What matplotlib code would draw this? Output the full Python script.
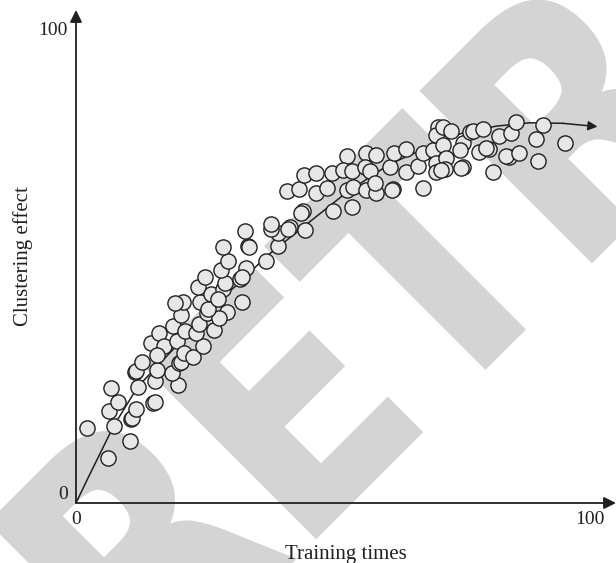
import matplotlib
matplotlib.use("Agg")
import matplotlib.pyplot as plt
from matplotlib.textpath import TextPath
from matplotlib.patches import PathPatch
from matplotlib.font_manager import FontProperties
from matplotlib.transforms import Affine2D

# Puntos medidos (entrenamiento vs. efecto de agrupamiento)
train_x = [2.1, 6.2, 10.5, 7.3, 6.5, 8.1, 6.8, 10.6, 10.9, 11.7, 15.0, 15.3, 12.0, 11.4, 11.6,
           12.8, 15.3, 19.9, 18.6, 20.1, 20.4, 15.7, 14.6, 16.1, 17.1, 15.8, 18.9, 19.6, 21.2, 21.0,
           22.8, 24.6, 23.4, 23.9, 20.5, 20.8, 24.1, 25.4, 26.9, 29.3, 32.2, 27.8, 25.6, 19.2, 23.7,
           25.0, 26.2, 28.5, 28.9, 27.6, 28.1, 29.5, 28.5, 33.5, 33.7, 33.1, 31.8, 32.2, 32.8, 36.9,
           39.3, 39.2, 37.9, 38.0, 41.6, 41.2, 44.5, 44.1, 43.7, 41.0, 43.4, 44.3, 46.6, 46.6, 48.9,
           49.8, 50.0, 52.6, 52.7, 51.9, 53.7, 53.8, 53.7, 56.4, 58.3, 56.1, 57.1, 56.4, 58.3, 58.1,
           61.0, 61.9, 61.7, 61.4, 64.1, 64.2, 66.5, 67.4, 67.4, 69.4, 70.0, 70.0, 70.3, 70.0, 71.3,
           73.0, 71.3, 72.0, 71.7, 70.9, 75.2, 74.6, 75.3, 74.9, 76.7, 77.1, 79.1, 78.4, 80.3, 79.8,
           81.0, 82.3, 84.6, 85.6, 84.1, 83.7, 86.2, 89.5, 90.9, 89.8, 95.0]
effect_y = [15.9, 9.5, 13.1, 16.2, 19.4, 21.4, 24.2, 17.8, 17.9, 19.9, 21.1, 21.3, 24.5, 27.6, 27.8,
            29.7, 25.7, 24.9, 27.4, 29.5, 29.7, 28.1, 33.8, 35.9, 33.2, 31.2, 37.3, 34.2, 36.2, 31.7,
            30.9, 33.1, 35.8, 37.8, 39.6, 42.5, 42.3, 40.0, 36.5, 40.3, 42.5, 39.0, 40.9, 42.1, 45.6,
            47.7, 44.1, 45.1, 46.4, 43.0, 49.2, 51.1, 53.9, 54.2, 53.9, 49.5, 47.2, 47.6, 57.4, 51.1,
            54.2, 56.9, 57.7, 58.9, 58.2, 57.9, 57.6, 61.5, 61.2, 65.9, 66.2, 69.2, 69.7, 65.3, 66.4,
            69.6, 61.6, 66.0, 73.2, 70.3, 70.0, 66.7, 62.4, 73.9, 73.4, 70.8, 70.0, 66.0, 65.5, 67.4,
            70.8, 73.9, 66.3, 66.1, 74.6, 69.9, 71.0, 66.4, 73.9, 74.5, 71.7, 69.9, 79.4, 77.6, 79.4,
            78.5, 75.5, 72.7, 70.5, 70.3, 75.9, 74.5, 70.8, 70.6, 78.2, 78.5, 78.8, 74.1, 74.7, 74.9,
            69.9, 77.4, 78.0, 80.4, 72.9, 73.2, 73.8, 76.7, 79.7, 72.2, 76.0]

# Curva de tendencia
curve_x = [0, 2.3, 7.3, 12, 19.4, 25, 31.8, 37, 44.5, 52.6, 61, 70, 75, 81.7, 88.2, 94.6, 101.4]
curve_y = [0, 5.2, 16.2, 24.5, 33, 40, 46.5, 52, 58.5, 65.5, 71.5, 75.8, 78, 79.5, 80.2, 80.1, 79.4]

tick_vals = [0, 100]
tick_labels = ["0", "100"]

serif = "Liberation Serif"
ink = "#231f20"

fig = plt.figure(figsize=(6.16, 5.63), dpi=100)
ax = fig.add_axes([76 / 616, 60 / 563, 540 / 616, 493 / 563])
ax.set_facecolor("none")

# marca de agua (letra estrecha: se comprime el trazo en horizontal)
wm_path = TextPath((0, 0), "RETRACTED", size=330,
                   prop=FontProperties(family="DejaVu Sans", weight="bold"))
wm_tr = (Affine2D().scale(0.866, 1).rotate_deg(45).translate(142, -148)
         + Affine2D().scale(1 / 100) + fig.dpi_scale_trans)
fig.add_artist(PathPatch(wm_path, transform=wm_tr, facecolor="#d4d4d4",
                         edgecolor="#d4d4d4", lw=2.5, zorder=-1))

ax.plot(curve_x[:-1], curve_y[:-1], color=ink, lw=1.1, zorder=2)
ax.annotate("", xy=(curve_x[-1], curve_y[-1]), xytext=(curve_x[-2], curve_y[-2]),
            arrowprops=dict(arrowstyle="-|>", color=ink, lw=1.1, mutation_scale=14,
                            shrinkA=0, shrinkB=0), zorder=2)
ax.scatter(train_x, effect_y, s=120, facecolor="#e6e7e8", edgecolor=ink, linewidths=1.0, zorder=3)

ax.set_xlim(0, 105)
ax.set_ylim(0, 104)
for s in ax.spines.values():
    s.set_visible(False)

# ejes con flecha
ax.annotate("", xy=(105, 0), xytext=(0, 0),
            arrowprops=dict(arrowstyle="-|>", color=ink, lw=1.3, mutation_scale=18,
                            shrinkA=0, shrinkB=0), annotation_clip=False)
ax.annotate("", xy=(0, 104), xytext=(0, 0),
            arrowprops=dict(arrowstyle="-|>", color=ink, lw=1.3, mutation_scale=18,
                            shrinkA=0, shrinkB=0), annotation_clip=False)

ax.set_xticks(tick_vals)
ax.set_xticklabels(tick_labels, family=serif, fontsize=14, color=ink)
ax.set_yticks(tick_vals)
ax.set_yticklabels(tick_labels, family=serif, fontsize=14, color=ink)
ax.tick_params(length=0, pad=6)
ax.get_yticklabels()[0].set_va("bottom")

ax.set_xlabel("Training times", family=serif, fontsize=15, color=ink, labelpad=12)
ax.set_ylabel("Clustering effect", family=serif, fontsize=15, color=ink, labelpad=4)

fig.savefig("out.png", dpi=100)
